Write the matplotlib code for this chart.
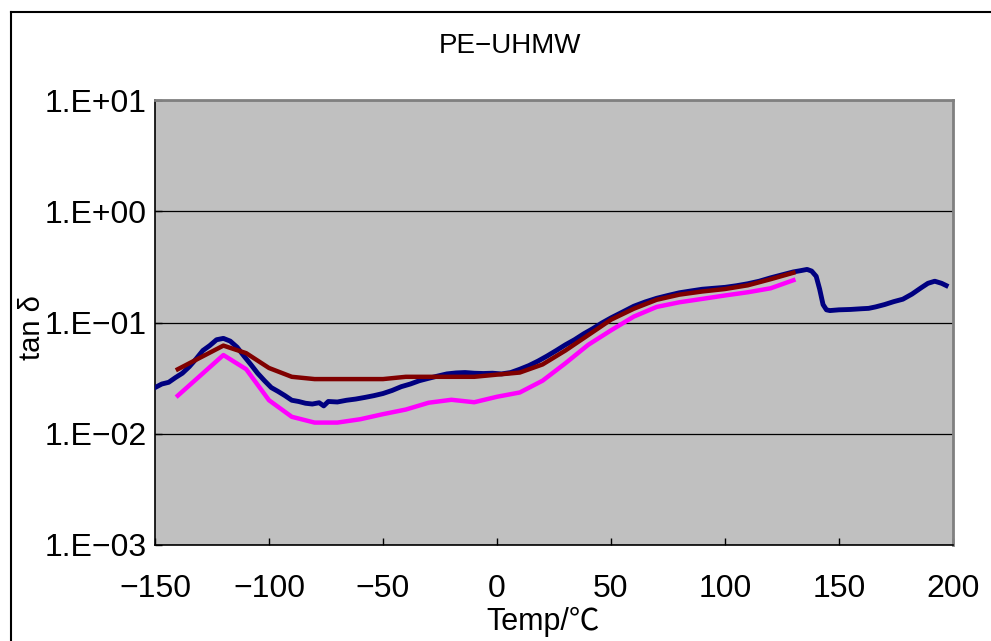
import numpy as np
import matplotlib.pyplot as plt
from matplotlib.lines import Line2D

plt.rcParams['font.family'] = ['Liberation Sans', 'Noto Sans CJK JP', 'DejaVu Sans']

# navy: measured run (dense)
navy_t = [-150, -147, -144, -141, -138, -135, -132, -129, -126, -123, -120, -117,
          -114, -111, -108, -105, -102, -99, -96, -93, -90, -87, -84, -81, -78, -76,
          -74, -70, -66, -62, -58, -54, -50, -46, -42, -38, -34, -30, -26, -22, -18,
          -14, -10, -6, -2, 2, 6, 10, 14, 18, 22, 26, 30, 34, 38, 42, 46, 50, 55, 60,
          65, 70, 75, 80, 85, 90, 95, 100, 105, 110, 115, 120, 125, 130, 133, 136,
          138, 140, 141.5, 143, 144.5, 146, 150, 155, 160, 163, 166, 170, 174, 178,
          182, 186, 189, 192, 195, 197]
navy_tan = [0.026, 0.028, 0.029, 0.032, 0.035, 0.040, 0.047, 0.056, 0.062, 0.070, 0.072, 0.068,
            0.060, 0.050, 0.042, 0.035, 0.030, 0.026, 0.024, 0.022, 0.020, 0.0195, 0.0188, 0.0185, 0.0190, 0.0178,
            0.0195, 0.0193, 0.0200, 0.0205, 0.0212, 0.0220, 0.0230, 0.0245, 0.0265, 0.0280, 0.0300, 0.0315, 0.0330, 0.0345, 0.0352,
            0.0355, 0.0350, 0.0348, 0.0350, 0.0345, 0.0355, 0.0380, 0.0410, 0.0450, 0.0500, 0.0560, 0.0630, 0.0700, 0.0790, 0.0880, 0.0990, 0.110, 0.124, 0.140,
            0.153, 0.165, 0.175, 0.185, 0.192, 0.199, 0.203, 0.207, 0.214, 0.223, 0.235, 0.252, 0.268, 0.285, 0.292, 0.300,
            0.290, 0.260, 0.200, 0.145, 0.130, 0.128, 0.130, 0.131, 0.133, 0.134, 0.138, 0.145, 0.154, 0.162,
            0.180, 0.205, 0.225, 0.235, 0.225, 0.215]

# maroon and magenta: coarse 10 degree steps
step_t = [-140, -120, -110, -100, -90, -80, -70, -60, -50, -40, -30, -20, -10, 0,
          10, 20, 30, 40, 50, 60, 70, 80, 90, 100, 110, 120, 130]
maroon_tan = [0.038, 0.062, 0.053, 0.039, 0.0325, 0.031, 0.031, 0.031, 0.031, 0.0325, 0.0325, 0.0325, 0.0325, 0.034,
              0.0355, 0.042, 0.056, 0.077, 0.106, 0.133, 0.160, 0.178, 0.190, 0.200, 0.216, 0.245, 0.280]
magenta_tan = [0.022, 0.051, 0.038, 0.020, 0.0142, 0.0126, 0.0126, 0.0135, 0.015, 0.0165, 0.019, 0.0202, 0.0192, 0.0215,
               0.0235, 0.030, 0.043, 0.063, 0.085, 0.113, 0.138, 0.152, 0.163, 0.175, 0.187, 0.203, 0.240]

xticks = [-150, -100, -50, 0, 50, 100, 150, 200]
yticks = [1e-3, 1e-2, 1e-1, 1e0, 1e1]
ytick_labels = ['1.E\u221203', '1.E\u221202', '1.E\u221201', '1.E+00', '1.E+01']

fig = plt.figure(figsize=(9.91, 6.41), dpi=100)
ax = fig.add_axes([155 / 991, 1 - 545 / 641, 798 / 991, 445 / 641])
ax.set_facecolor('#C0C0C0')

ax.plot(navy_t, navy_tan, color='#000080', lw=3.5, solid_joinstyle='round', zorder=3)
ax.plot(step_t, magenta_tan, color='#FF00FF', lw=3.2, zorder=4)
ax.plot(step_t, maroon_tan, color='#800000', lw=3.2, zorder=5)

ax.set_yscale('log')
ax.set_xlim(-150, 200)
ax.set_ylim(1e-3, 1e1)
ax.set_xticks(xticks)
ax.set_xticklabels([str(t).replace('-', '\u2212') for t in xticks])
ax.set_yticks(yticks)
ax.set_yticklabels(ytick_labels)
ax.yaxis.set_minor_locator(plt.NullLocator())
ax.tick_params(axis='both', direction='in', length=5, width=1, labelsize=23, color='black')
ax.tick_params(axis='x', pad=21)
ax.tick_params(axis='y', pad=6)
ax.grid(axis='y', which='major', color='black', lw=0.9)

for s in ['left', 'bottom']:
    ax.spines[s].set_color('black')
    ax.spines[s].set_linewidth(1.2)
for s in ['top', 'right']:
    ax.spines[s].set_color('#808080')
    ax.spines[s].set_linewidth(2)

ax.set_xlabel('Temp/\u2103', fontsize=22)
ax.xaxis.set_label_coords((543 - 155) / 798, -(622 - 545) / 445)
ax.xaxis.label.set_va('center')
ax.set_ylabel('tan \u03b4', fontsize=21)
ax.yaxis.set_label_coords((32 - 155) / 798, (545 - 328) / 445)
ax.yaxis.label.set_va('center')

fig.text(510 / 991, 1 - 46 / 641, 'PE\u2212UHMW', fontsize=20, ha='center', va='center')

# outer chart border
fig.add_artist(Line2D([11 / 991, 1], [1 - 12 / 641] * 2, color='black', lw=1.5))
fig.add_artist(Line2D([11 / 991] * 2, [0, 1 - 12 / 641], color='black', lw=1.5))

fig.savefig('out.png', dpi=100)
